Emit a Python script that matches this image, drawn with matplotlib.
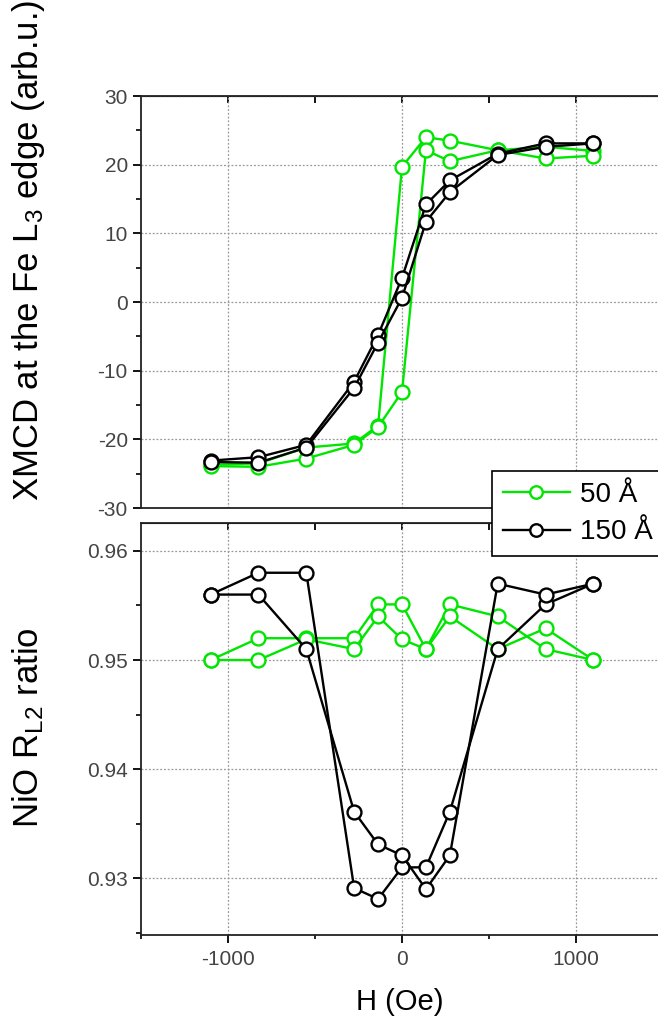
import matplotlib
matplotlib.use("Agg")
import matplotlib.pyplot as plt
from matplotlib.ticker import MultipleLocator

# field steps (Oe), same for every branch
H = [-1100, -825, -550, -275, -137.5, 0, 137.5, 275, 550, 825, 1100]

# XMCD at Fe L3 edge, two branches of the loop per sample
xmcd_50_a = [-23.7, -23.5, -21.2, -20.6, -18.0, 19.7, 24.0, 23.5, 22.1, 22.6, 22.0]
xmcd_50_b = [-23.9, -24.0, -22.8, -20.8, -18.2, -13.1, 22.1, 20.5, 22.1, 20.9, 21.3]
xmcd_150_a = [-23.1, -22.6, -20.8, -11.6, -4.8, 3.5, 14.2, 17.7, 21.6, 23.1, 23.1]
xmcd_150_b = [-23.3, -23.4, -21.2, -12.5, -5.9, 0.6, 11.7, 16.0, 21.4, 22.6, 23.1]

# NiO R_L2 ratio
rl2_50_a = [0.950, 0.952, 0.952, 0.952, 0.9551, 0.9551, 0.951, 0.9551, 0.954, 0.951, 0.950]
rl2_50_b = [0.950, 0.950, 0.9519, 0.951, 0.954, 0.9519, 0.951, 0.954, 0.951, 0.9529, 0.950]
rl2_150_a = [0.956, 0.958, 0.958, 0.9291, 0.9281, 0.931, 0.931, 0.9361, 0.951, 0.9551, 0.957]
rl2_150_b = [0.956, 0.956, 0.951, 0.9361, 0.9331, 0.9321, 0.929, 0.9321, 0.957, 0.956, 0.957]

labels = ["50 Å", "150 Å"]
green = "#00e600"

plt.rcParams["font.family"] = ["Liberation Sans", "DejaVu Sans"]
plt.rcParams["axes.unicode_minus"] = False
plt.rcParams["mathtext.default"] = "regular"

W, Hpx = 658, 1025
fig = plt.figure(figsize=(W / 100, Hpx / 100), dpi=100)

left = 141 / W
width = 522 / W
ax1 = fig.add_axes([left, 1 - 508 / Hpx, width, 412 / Hpx])
ax2 = fig.add_axes([left, 1 - 935 / Hpx, width, 412 / Hpx])

mk = dict(marker="o", markersize=10, markerfacecolor="white", markeredgewidth=1.7, linewidth=1.7)

ax1.plot(H, xmcd_50_a, color=green, **mk)
ax1.plot(H, xmcd_50_b, color=green, **mk)
ax1.plot(H, xmcd_150_a, color="black", **mk)
ax1.plot(H, xmcd_150_b, color="black", **mk)

ax2.plot(H, rl2_50_a, color=green, **mk)
ax2.plot(H, rl2_50_b, color=green, **mk)
ax2.plot(H, rl2_150_a, color="black", **mk)
ax2.plot(H, rl2_150_b, color="black", **mk)

ax1.set_ylim(-30, 30)
ax1.yaxis.set_major_locator(MultipleLocator(10))
ax1.yaxis.set_minor_locator(MultipleLocator(5))
ax2.set_ylim(0.9248, 0.96256)
ax2.yaxis.set_major_locator(MultipleLocator(0.01))
ax2.yaxis.set_minor_locator(MultipleLocator(0.005))
ax2.yaxis.set_major_formatter(plt.FormatStrFormatter("%.2f"))

for ax in (ax1, ax2):
    ax.set_xlim(-1500, 1500)
    ax.xaxis.set_major_locator(MultipleLocator(1000))
    ax.xaxis.set_minor_locator(MultipleLocator(500))
    ax.grid(True, which="major", color="#999999", linestyle=(0, (1.5, 1.5)), linewidth=0.9)
    ax.set_axisbelow(True)
    for s in ax.spines.values():
        s.set_linewidth(1.3)
        s.set_color("#222222")
    ax.tick_params(axis="y", which="both", direction="out", left=True, right=True,
                   labelsize=15, labelcolor="#444444")
    ax.tick_params(axis="y", which="major", length=6, width=1.3)
    ax.tick_params(axis="y", which="minor", length=3.5, width=1.2)
    ax.tick_params(axis="x", which="both", direction="out", top=False, labelsize=15,
                   labelcolor="#444444", pad=5)
    ax.tick_params(axis="x", which="major", length=6, width=1.3)
    ax.tick_params(axis="x", which="minor", length=3, width=1.2)
    # inward ticks on the top edge
    sec = ax.secondary_xaxis("top")
    sec.set_xticks([-1000, -500, 0, 500, 1000])
    sec.tick_params(direction="in", length=5, width=1.3, labeltop=False)
    sec.set_xticklabels([])

ax1.tick_params(axis="x", labelbottom=False)
ax1.tick_params(axis="x", which="both", bottom=False)

ax1.set_ylabel("XMCD at the Fe L$_3$ edge (arb.u.)", fontsize=25)
ax1.yaxis.set_label_coords((47 - 141) / 522, (508 - 250) / 412)
ax2.set_ylabel("NiO R$_{L2}$ ratio", fontsize=25)
ax2.yaxis.set_label_coords((46 - 141) / 522, (935 - 728) / 412)
ax2.set_xlabel("H (Oe)", fontsize=21)
ax2.xaxis.set_label_coords((400 - 141) / 522, -(988 - 935) / 412)

h50, = ax1.plot([], [], color=green, **{**mk, "markersize": 9})
h150, = ax1.plot([], [], color="black", **{**mk, "markersize": 9})
leg = fig.legend([h50, h150], labels, loc="upper left",
                 bbox_to_anchor=(492 / W, 1 - 471 / Hpx), fontsize=20,
                 frameon=True, fancybox=False, framealpha=1, edgecolor="black",
                 handlelength=2.4, handletextpad=0.35, borderpad=0.4,
                 borderaxespad=0, labelspacing=0.4, handleheight=0.7)
leg.get_frame().set_linewidth(1.2)

fig.savefig("out.png", dpi=100)
